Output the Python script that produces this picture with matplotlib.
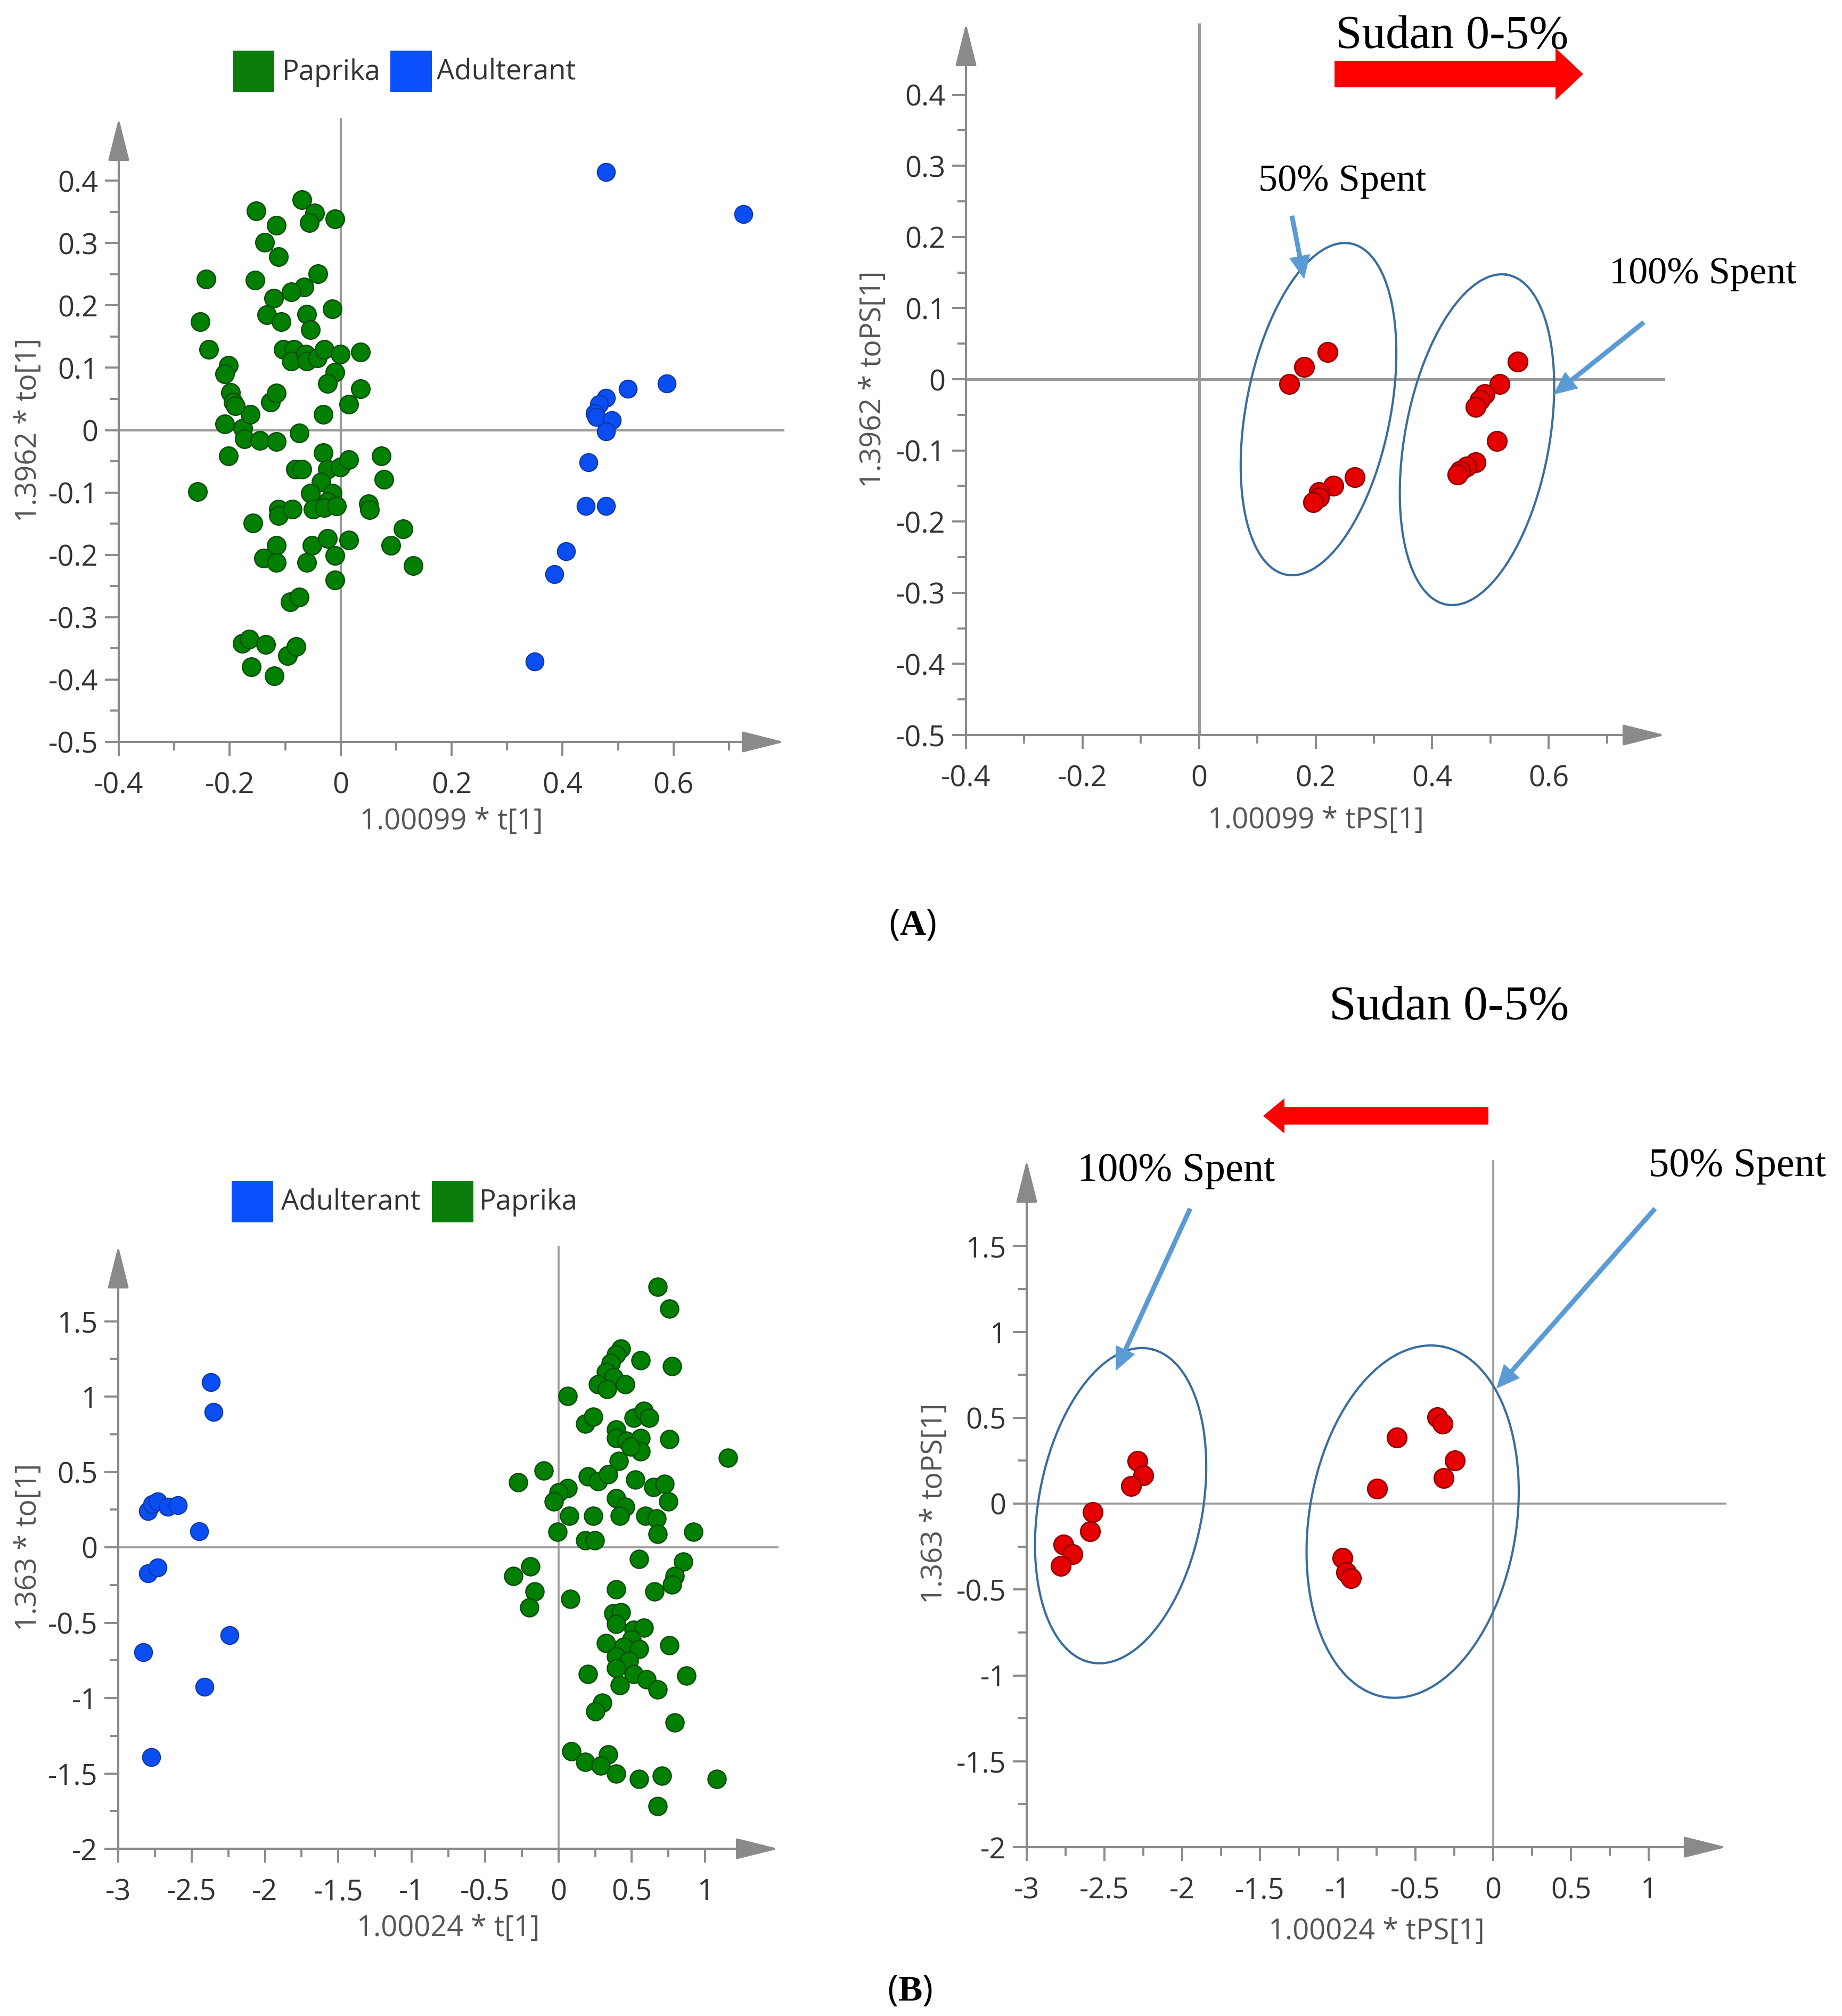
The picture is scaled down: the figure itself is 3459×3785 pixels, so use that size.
import numpy as np
import matplotlib
matplotlib.use('Agg')
import matplotlib.pyplot as plt
import matplotlib.patches as mpatches

plt.rcParams['font.family'] = ['Open Sans', 'DejaVu Sans']
plt.rcParams['axes.unicode_minus'] = False
plt.rcParams['mathtext.fontset'] = 'custom'
plt.rcParams['mathtext.rm'] = 'Liberation Serif'
plt.rcParams['mathtext.bf'] = 'Liberation Serif:bold'

# ---------------- data ----------------
# Panel A left: scores (Paprika / Adulterant)
paprika_A_x = [-0.243, -0.253, -0.238, -0.258, -0.202, -0.209, -0.198, -0.194, -0.209, -0.202,
               -0.176, -0.173, -0.163, -0.146, -0.116, -0.126, -0.116, -0.152, -0.116, -0.137,
               -0.112, -0.154, -0.121, -0.133, -0.107, -0.070, -0.047, -0.056, -0.010, -0.041,
               -0.066, -0.089, -0.015, -0.061, -0.054, -0.103, -0.084, -0.089, -0.063, -0.061,
               -0.042, -0.029, -0.001, 0.036, -0.010, -0.024, 0.036, 0.015, -0.031, -0.075,
               -0.031, -0.081, -0.070, -0.024, -0.001, 0.015, -0.035, -0.054, -0.015, -0.024,
               -0.050, -0.029, -0.007, 0.050, 0.052, 0.073, 0.078, -0.112, -0.112, -0.087,
               -0.158, -0.116, -0.139, -0.116, -0.061, -0.052, -0.024, 0.015, -0.010, -0.010,
               0.091, 0.113, 0.131, -0.091, -0.075, -0.177, -0.165, -0.135, -0.161, -0.120,
               -0.096, -0.080, -0.190]
paprika_A_y = [0.242, 0.174, 0.129, -0.099, 0.104, 0.090, 0.060, 0.045, 0.010, -0.041,
               0.003, -0.014, 0.025, -0.017, -0.018, 0.045, 0.059, 0.351, 0.328, 0.301,
               0.278, 0.240, 0.211, 0.185, 0.174, 0.369, 0.348, 0.333, 0.339, 0.251,
               0.229, 0.222, 0.194, 0.186, 0.161, 0.129, 0.129, 0.111, 0.122, 0.111,
               0.116, 0.129, 0.122, 0.125, 0.093, 0.075, 0.066, 0.041, 0.025, -0.005,
               -0.036, -0.063, -0.063, -0.063, -0.059, -0.047, -0.083, -0.101, -0.101, -0.115,
               -0.127, -0.124, -0.122, -0.118, -0.128, -0.041, -0.079, -0.127, -0.137, -0.127,
               -0.149, -0.185, -0.205, -0.212, -0.212, -0.185, -0.174, -0.176, -0.201, -0.240,
               -0.185, -0.158, -0.217, -0.275, -0.268, -0.342, -0.335, -0.344, -0.380, -0.394,
               -0.362, -0.347, 0.039]
adulterant_A_x = [0.478, 0.726, 0.588, 0.518, 0.478, 0.466, 0.458, 0.461, 0.489, 0.478,
                  0.447, 0.442, 0.478, 0.406, 0.385, 0.350]
adulterant_A_y = [0.414, 0.346, 0.075, 0.066, 0.052, 0.041, 0.027, 0.021, 0.016, -0.002,
                  -0.052, -0.122, -0.122, -0.194, -0.231, -0.371]

# Panel A right: predicted scores of spent samples
spent50_A_x = [0.155, 0.180, 0.221, 0.267, 0.231, 0.206, 0.206, 0.196]
spent50_A_y = [-0.007, 0.017, 0.038, -0.138, -0.150, -0.159, -0.166, -0.173]
spent100_A_x = [0.547, 0.516, 0.490, 0.482, 0.475, 0.511, 0.475, 0.459, 0.448, 0.444]
spent100_A_y = [0.025, -0.007, -0.021, -0.029, -0.039, -0.087, -0.117, -0.123, -0.129, -0.134]

# Panel B left
paprika_B_x = [0.677, 0.757, 0.427, 0.392, 0.559, 0.358, 0.774, 0.323, 0.375, 0.271,
               0.333, 0.455, 0.063, 0.184, 0.236, 0.392, 0.514, 0.583, 0.618, 0.392,
               0.462, 0.559, 0.559, 0.490, 0.757, 1.156, 0.410, -0.101, -0.274, 0.201,
               0.271, 0.340, 0.524, 0.646, 0.722, 0.063, 0.003, -0.031, 0.392, 0.455,
               0.747, 0.073, 0.236, 0.420, 0.594, 0.670, -0.007, 0.677, 0.920, 0.184,
               0.247, -0.309, -0.191, -0.163, -0.198, 0.080, 0.549, 0.851, 0.792, 0.774,
               0.653, 0.392, 0.375, 0.427, 0.392, 0.514, 0.583, 0.497, 0.323, 0.444,
               0.549, 0.757, 0.392, 0.479, 0.392, 0.201, 0.514, 0.601, 0.420, 0.872,
               0.677, 0.299, 0.253, 0.792, 0.087, 0.184, 0.340, 0.288, 0.392, 0.549,
               0.705, 1.080, 0.677]
paprika_B_y = [1.729, 1.584, 1.317, 1.279, 1.240, 1.221, 1.202, 1.164, 1.126, 1.080,
               1.050, 1.080, 1.004, 0.821, 0.866, 0.782, 0.859, 0.905, 0.859, 0.725,
               0.706, 0.725, 0.637, 0.668, 0.718, 0.592, 0.573, 0.508, 0.431, 0.469,
               0.439, 0.485, 0.447, 0.401, 0.420, 0.393, 0.363, 0.305, 0.324, 0.267,
               0.305, 0.210, 0.210, 0.210, 0.210, 0.191, 0.103, 0.088, 0.103, 0.046,
               0.046, -0.191, -0.126, -0.294, -0.401, -0.344, -0.076, -0.095, -0.191, -0.248,
               -0.294, -0.279, -0.439, -0.431, -0.508, -0.546, -0.534, -0.611, -0.637, -0.660,
               -0.676, -0.649, -0.725, -0.752, -0.802, -0.840, -0.840, -0.878, -0.916, -0.851,
               -0.943, -1.031, -1.088, -1.164, -1.355, -1.424, -1.374, -1.450, -1.500, -1.538,
               -1.515, -1.538, -1.718]
adulterant_B_x = [-2.368, -2.351, -2.795, -2.767, -2.733, -2.663, -2.594, -2.448, -2.795, -2.733,
                  -2.830, -2.240, -2.413, -2.774]
adulterant_B_y = [1.095, 0.897, 0.240, 0.286, 0.305, 0.267, 0.279, 0.107, -0.172, -0.134,
                  -0.695, -0.584, -0.927, -1.393]

# Panel B right
spent100_B_x = [-2.289, -2.251, -2.328, -2.574, -2.592, -2.765, -2.704, -2.781]
spent100_B_y = [0.248, 0.165, 0.102, -0.051, -0.161, -0.239, -0.295, -0.363]
spent50_B_x = [-0.359, -0.327, -0.620, -0.245, -0.318, -0.745, -0.968, -0.945, -0.914]
spent50_B_y = [0.502, 0.466, 0.385, 0.251, 0.150, 0.088, -0.316, -0.399, -0.435]

# ticks
xt_A = [-0.4, -0.2, 0, 0.2, 0.4, 0.6]
xt_A_lab = ['-0.4', '-0.2', '0', '0.2', '0.4', '0.6']
xt_A_min = [-0.3, -0.1, 0.1, 0.3, 0.5, 0.7]
yt_A = [-0.5, -0.4, -0.3, -0.2, -0.1, 0, 0.1, 0.2, 0.3, 0.4]
yt_A_lab = ['-0.5', '-0.4', '-0.3', '-0.2', '-0.1', '0', '0.1', '0.2', '0.3', '0.4']
yt_A_min = [-0.45, -0.35, -0.25, -0.15, -0.05, 0.05, 0.15, 0.25, 0.35]
xt_B = [-3, -2.5, -2, -1.5, -1, -0.5, 0, 0.5, 1]
xt_B_lab = ['-3', '-2.5', '-2', '-1.5', '-1', '-0.5', '0', '0.5', '1']
xt_B_min = [-2.75, -2.25, -1.75, -1.25, -0.75, -0.25, 0.25, 0.75]
yt_B = [-2, -1.5, -1, -0.5, 0, 0.5, 1, 1.5]
yt_B_lab = ['-2', '-1.5', '-1', '-0.5', '0', '0.5', '1', '1.5']
yt_B_min = [-1.75, -1.25, -0.75, -0.25, 0.25, 0.75, 1.25]

# confidence ellipses (centre, two conjugate semi-axes in data units)
ellipses_A = [(0.205, -0.042, 0.053, 0.233, 0.1226, -0.0147),
              (0.477, -0.085, 0.050, 0.232, 0.1227, -0.0139)]
ellipses_B = [(-2.396, -0.012, 0.200, 0.911, 0.513, -0.111),
              (-0.518, -0.105, 0.198, 1.018, 0.653, -0.125)]

# ---------------- styling ----------------
W, H = 3459, 3785
fig = plt.figure(figsize=(W / 100, H / 100), dpi=100)

AX_GRAY = '#8a8a8a'
ZERO_GRAY = '#9a9a9a'
TICK_TXT = '#333333'
LAB_TXT = '#555555'
GREEN_F, GREEN_E = '#017f01', '#0b4f0b'
BLUE_F, BLUE_E = '#0a4ef2', '#0b37a6'
RED_F, RED_E = '#e40000', '#8e0000'
ELL_C = '#3a6d9f'
LBLUE = '#5b9bd5'
SERIF = ['Liberation Serif', 'DejaVu Serif']
TFS = 39


def add_ax(x0, y0, x1, y1):
    return fig.add_axes([x0 / W, 1 - y1 / H, (x1 - x0) / W, (y1 - y0) / H])


def style(ax, xlim, ylim, xt, xtl, xtm, yt, ytl, ytm, xlabel, ylabel, xlc, ylc, zlw):
    ax.set_xlim(xlim)
    ax.set_ylim(ylim)
    for s in ax.spines.values():
        s.set_visible(False)
    ax.set_xticks(xt)
    ax.set_xticklabels(xtl)
    ax.set_xticks(xtm, minor=True)
    ax.set_yticks(yt)
    ax.set_yticklabels(ytl)
    ax.set_yticks(ytm, minor=True)
    ax.tick_params(which='both', direction='out', color=AX_GRAY, width=2.8,
                   top=False, right=False)
    ax.tick_params(which='major', length=19, labelsize=TFS, labelcolor=TICK_TXT)
    ax.tick_params(which='minor', length=11.5)
    ax.tick_params(axis='x', which='major', pad=20)
    ax.tick_params(axis='y', which='major', pad=9)
    ax.axhline(0, color=ZERO_GRAY, lw=zlw, zorder=1)
    ax.axvline(0, color=ZERO_GRAY, lw=zlw, zorder=1)
    for (p0, p1) in [((xlim[0], ylim[0]), (xlim[1], ylim[0])),
                     ((xlim[0], ylim[0]), (xlim[0], ylim[1]))]:
        arr = mpatches.FancyArrowPatch(p0, p1, arrowstyle='-|>,head_length=50,head_width=12.5',
                                       mutation_scale=1, lw=3.0, color=AX_GRAY,
                                       shrinkA=0, shrinkB=0, transform=ax.transData,
                                       clip_on=False, zorder=2)
        ax.add_patch(arr)
    ax.set_xlabel(xlabel, fontsize=TFS, color=LAB_TXT)
    ax.xaxis.set_label_coords(0.5, xlc)
    ax.xaxis.label.set_va('center')
    ax.set_ylabel(ylabel, fontsize=TFS, color=LAB_TXT)
    ax.yaxis.set_label_coords(ylc, 0.5)
    ax.yaxis.label.set_va('center')


def draw_ellipses(ax, ells):
    t = np.linspace(0, 2 * np.pi, 400)
    for (cx, cy, ux, uy, vx, vy) in ells:
        ax.plot(cx + ux * np.cos(t) + vx * np.sin(t), cy + uy * np.cos(t) + vy * np.sin(t),
                color=ELL_C, lw=3.0, clip_on=False, zorder=4)


# ---- A left
axA1 = add_ax(223, 222, 1473, 1393)
style(axA1, (-0.4, 0.8), (-0.5, 0.5), xt_A, xt_A_lab, xt_A_min, yt_A, yt_A_lab, yt_A_min,
      '1.00099 * t[1]', '1.3962 * to[1]', -0.128, -0.136, 3.0)
axA1.scatter(paprika_A_x, paprika_A_y, s=620, c=GREEN_F, edgecolors=GREEN_E, linewidths=1.8, zorder=3)
axA1.scatter(adulterant_A_x, adulterant_A_y, s=580, c=BLUE_F, edgecolors=BLUE_E, linewidths=1.5, zorder=3)

# ---- A right
axA2 = add_ax(1814, 44, 3127, 1380)
style(axA2, (-0.4, 0.8), (-0.5, 0.5), xt_A, xt_A_lab, xt_A_min, yt_A, yt_A_lab, yt_A_min,
      '1.00099 * tPS[1]', '1.3962 * toPS[1]', -0.1205, -0.133, 3.6)
axA2.scatter(spent50_A_x, spent50_A_y, s=700, c=RED_F, edgecolors=RED_E, linewidths=1.8, zorder=3)
axA2.scatter(spent100_A_x, spent100_A_y, s=700, c=RED_F, edgecolors=RED_E, linewidths=1.8, zorder=3)
draw_ellipses(axA2, ellipses_A)

# ---- B left
axB1 = add_ax(222, 2339, 1462, 3471)
style(axB1, (-3, 1.5), (-2, 2), xt_B, xt_B_lab, xt_B_min, yt_B, yt_B_lab, yt_B_min,
      '1.00024 * t[1]', '1.363 * to[1]', -0.1325, -0.136, 2.6)
axB1.scatter(adulterant_B_x, adulterant_B_y, s=580, c=BLUE_F, edgecolors=BLUE_E, linewidths=1.5, zorder=3)
axB1.scatter(paprika_B_x, paprika_B_y, s=600, c=GREEN_F, edgecolors=GREEN_E, linewidths=1.8, zorder=3)

# ---- B right
axB2 = add_ax(1928, 2178, 3242, 3468)
style(axB2, (-3, 1.5), (-2, 2), xt_B, xt_B_lab, xt_B_min, yt_B, yt_B_lab, yt_B_min,
      '1.00024 * tPS[1]', '1.363 * toPS[1]', -0.1225, -0.1324, 2.6)
axB2.scatter(spent100_B_x, spent100_B_y, s=700, c=RED_F, edgecolors=RED_E, linewidths=1.8, zorder=3)
axB2.scatter(spent50_B_x, spent50_B_y, s=700, c=RED_F, edgecolors=RED_E, linewidths=1.8, zorder=3)
draw_ellipses(axB2, ellipses_B)

# ---------------- overlay (figure pixel coordinates) ----------------
ov = fig.add_axes([0, 0, 1, 1], zorder=10)
ov.set_xlim(0, W)
ov.set_ylim(H, 0)
ov.axis('off')

# legends
for (x, y, col) in [(437, 95, '#0b7d0b'), (733, 95, '#0a50ff'),
                    (435, 2217, '#0a50ff'), (811, 2217, '#0b7d0b')]:
    ov.add_patch(mpatches.Rectangle((x, y), 78, 78, facecolor=col, edgecolor='none'))
for (x, y, s) in [(530, 150, 'Paprika'), (820, 150, 'Adulterant'),
                  (528, 2271, 'Adulterant'), (900, 2271, 'Paprika')]:
    ov.text(x, y, s, fontsize=38, color=TICK_TXT, va='baseline', ha='left')

# red "Sudan" arrows
ov.add_patch(mpatches.FancyArrow(2506, 139, 467, 0, width=50, head_width=98, head_length=52,
                                 length_includes_head=True, color='#ff0000', lw=0))
ov.add_patch(mpatches.FancyArrow(2795, 2095, -423, 0, width=33, head_width=66, head_length=40,
                                 length_includes_head=True, color='#ff0000', lw=0))

# light-blue pointer arrows
for (x0, y0, x1, y1) in [(2426, 405, 2449, 524), (3087, 605, 2917, 741),
                         (2235, 2269, 2095, 2574), (3108, 2269, 2810, 2607)]:
    ov.add_patch(mpatches.FancyArrow(x0, y0, x1 - x0, y1 - y0, width=9, head_width=40,
                                     head_length=44, length_includes_head=True,
                                     color=LBLUE, lw=0))

# serif annotations
ov.text(2508, 90, 'Sudan 0-5%', fontsize=64, family=SERIF, va='baseline', ha='left', color='black')
ov.text(2363, 358, '50% Spent', fontsize=52, family=SERIF, va='baseline', ha='left', color='black')
ov.text(3022, 532, '100% Spent', fontsize=52, family=SERIF, va='baseline', ha='left', color='black')
ov.text(2496, 1913, 'Sudan 0-5%', fontsize=66, family=SERIF, va='baseline', ha='left', color='black')
ov.text(2023, 2217, '100% Spent', fontsize=55, family=SERIF, va='baseline', ha='left', color='black')
ov.text(3096, 2208, '50% Spent', fontsize=55, family=SERIF, va='baseline', ha='left', color='black')

# panel labels: regular parentheses, bold letter
ov.text(1713, 1737, r'($\mathbf{A}$)', fontsize=49, va='center', ha='center')
ov.text(1708, 3738, r'($\mathbf{B}$)', fontsize=49, va='center', ha='center')

fig.savefig('out.png', dpi=100, facecolor='white')
